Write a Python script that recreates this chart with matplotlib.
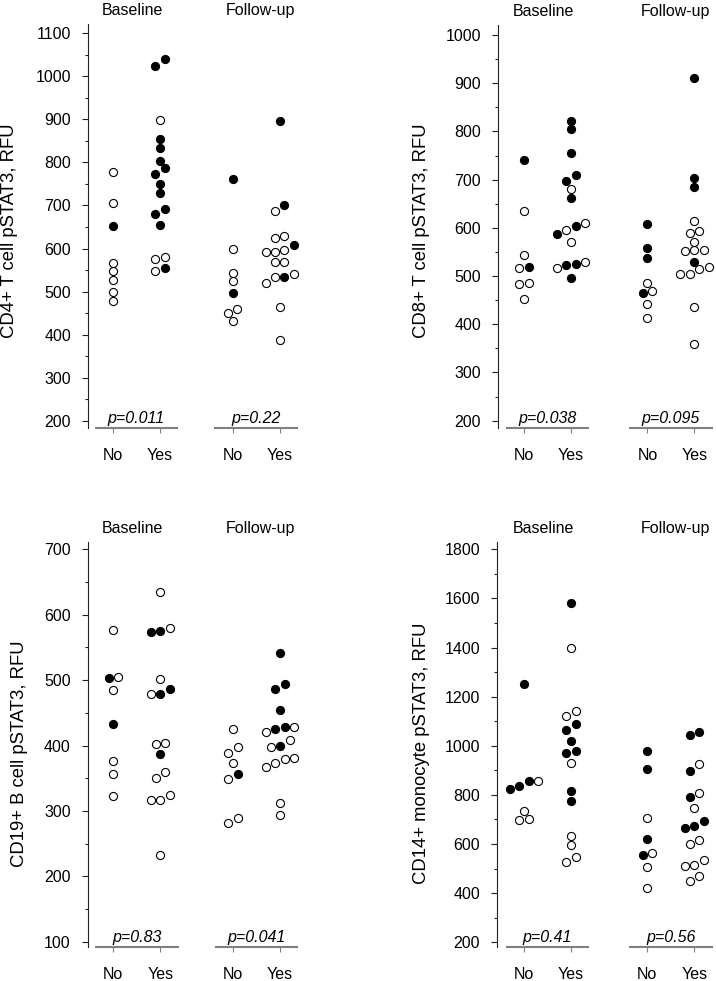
import numpy as np
import matplotlib
matplotlib.use("Agg")
from matplotlib import pyplot as plt
from matplotlib.ticker import MultipleLocator
from matplotlib.transforms import blended_transform_factory

plt.rcParams['font.family'] = ['Liberation Sans', 'DejaVu Sans']

# ---------------------------------------------------------------- data
groups = ["No", "Yes"]
timepoints = ["Baseline", "Follow-up"]

# CD4+ T cells (open / filled circles)
cd4_base_no_open = [479, 499, 526, 548, 567, 706, 777]
cd4_base_no_filled = [652]
cd4_base_yes_open = [548, 575, 580, 898]
cd4_base_yes_filled = [554, 654, 680, 691, 729, 750, 773, 787, 803, 833, 854, 1024, 1040]
cd4_fu_no_open = [431, 450, 459, 524, 543, 600]
cd4_fu_no_filled = [497, 762]
cd4_fu_yes_open = [388, 464, 521, 534, 541, 568, 568, 593, 593, 597, 624, 628, 688]
cd4_fu_yes_filled = [534, 608, 702, 896]
cd4_p = ["p=0.011", "p=0.22"]

# CD8+ T cells
cd8_base_no_open = [452, 484, 486, 516, 543, 634]
cd8_base_no_filled = [519, 741]
cd8_base_yes_open = [516, 530, 570, 595, 610, 681]
cd8_base_yes_filled = [495, 522, 524, 587, 603, 661, 698, 710, 755, 804, 822]
cd8_fu_no_open = [414, 442, 469, 486]
cd8_fu_no_filled = [465, 537, 559, 607]
cd8_fu_yes_open = [360, 436, 504, 504, 514, 518, 552, 553, 555, 571, 590, 593, 615]
cd8_fu_yes_filled = [530, 684, 703, 911]
cd8_p = ["p=0.038", "p=0.095"]

# CD19+ B cells
cd19_base_no_open = [323, 356, 377, 485, 504, 577]
cd19_base_no_filled = [433, 503]
cd19_base_yes_open = [232, 316, 316, 324, 350, 360, 402, 404, 478, 501, 580, 634]
cd19_base_yes_filled = [387, 479, 487, 574, 575]
cd19_fu_no_open = [282, 289, 349, 373, 388, 398, 425]
cd19_fu_no_filled = [356]
cd19_fu_yes_open = [294, 312, 367, 373, 380, 381, 397, 409, 421, 429]
cd19_fu_yes_filled = [399, 426, 428, 454, 487, 494, 542]
cd19_p = ["p=0.83", "p=0.041"]

# CD14+ monocytes
cd14_base_no_open = [699, 700, 734, 858]
cd14_base_no_filled = [823, 838, 857, 1252]
cd14_base_yes_open = [526, 549, 598, 633, 929, 1121, 1142, 1397]
cd14_base_yes_filled = [774, 815, 969, 980, 1018, 1064, 1087, 1580]
cd14_fu_no_open = [423, 508, 562, 705]
cd14_fu_no_filled = [557, 620, 904, 979]
cd14_fu_yes_open = [451, 471, 509, 515, 535, 599, 615, 746, 808, 927]
cd14_fu_yes_filled = [666, 672, 693, 791, 899, 1045, 1058]
cd14_p = ["p=0.41", "p=0.56"]

panels = [
    dict(label="CD4+ T cell pSTAT3, RFU", p=cd4_p,
         sets=[(cd4_base_no_open, cd4_base_no_filled), (cd4_base_yes_open, cd4_base_yes_filled),
               (cd4_fu_no_open, cd4_fu_no_filled), (cd4_fu_yes_open, cd4_fu_yes_filled)],
         left=88, top=24, bottom=428.3, x_lo=-0.53, gap=2.55,
         ylim=(182.3, 1121.6), major=100, label_xy=(10, 230.7)),
    dict(label="CD8+ T cell pSTAT3, RFU", p=cd8_p,
         sets=[(cd8_base_no_open, cd8_base_no_filled), (cd8_base_yes_open, cd8_base_yes_filled),
               (cd8_fu_no_open, cd8_fu_no_filled), (cd8_fu_yes_open, cd8_fu_yes_filled)],
         left=498, top=25, bottom=428.3, x_lo=-0.55, gap=2.63,
         ylim=(184.2, 1020.7), major=100, label_xy=(421.3, 230.8)),
    dict(label="CD19+ B cell pSTAT3, RFU", p=cd19_p,
         sets=[(cd19_base_no_open, cd19_base_no_filled), (cd19_base_yes_open, cd19_base_yes_filled),
               (cd19_fu_no_open, cd19_fu_no_filled), (cd19_fu_yes_open, cd19_fu_yes_filled)],
         left=87.7, top=542.3, bottom=946.7, x_lo=-0.545, gap=2.55,
         ylim=(92.4, 710.7), major=100, label_xy=(20, 754)),
    dict(label="CD14+ monocyte pSTAT3, RFU", p=cd14_p,
         sets=[(cd14_base_no_open, cd14_base_no_filled), (cd14_base_yes_open, cd14_base_yes_filled),
               (cd14_fu_no_open, cd14_fu_no_filled), (cd14_fu_yes_open, cd14_fu_yes_filled)],
         left=497.3, top=542.3, bottom=946.7, x_lo=-0.57, gap=2.62,
         ylim=(182.1, 1828.5), major=200, label_xy=(421.3, 753.3)),
]

# ---------------------------------------------------------------- style
FIG_W, FIG_H = 716, 981
PX_PER_X = 47.0          # pixels per category step
STEP = 0.2               # horizontal spacing of dots in a row (x units)
CHAIN_PX = 7.6           # max gap to previous dot for sharing a row
SPAN_PX = 12.0           # max span of a row
FS = 11.5
DOT = 34
LINE_GRAY = '#7f7f7f'


def row_offsets(values, chain, span):
    """Group sorted values into horizontal rows and center each row."""
    values = np.asarray(values, dtype=float)
    order = np.argsort(values, kind='stable')
    rows = []
    for i in order:
        if rows and values[i] - values[rows[-1][-1]] < chain and values[i] - values[rows[-1][0]] < span:
            rows[-1].append(i)
        else:
            rows.append([i])
    offsets = np.zeros(len(values))
    for row in rows:
        n = len(row)
        for k, i in enumerate(row):
            offsets[i] = (k - (n - 1) / 2) * STEP
    return offsets


fig = plt.figure(figsize=(FIG_W / 100, FIG_H / 100), dpi=100)

for pan in panels:
    gap = pan['gap']
    x_hi = gap + 1.40
    width = (x_hi - pan['x_lo']) * PX_PER_X
    height = pan['bottom'] - pan['top']
    ax = fig.add_axes([pan['left'] / FIG_W, 1 - pan['bottom'] / FIG_H,
                       width / FIG_W, height / FIG_H])
    ax.set_xlim(pan['x_lo'], x_hi)
    ax.set_ylim(*pan['ylim'])
    units_per_px = (pan['ylim'][1] - pan['ylim'][0]) / height

    positions = [0, 1, gap, gap + 1]
    for pos, (open_vals, filled_vals) in zip(positions, pan['sets']):
        vals = np.array(list(open_vals) + list(filled_vals), dtype=float)
        filled = np.array([False] * len(open_vals) + [True] * len(filled_vals))
        offs = row_offsets(vals, CHAIN_PX * units_per_px, SPAN_PX * units_per_px)
        xs = pos + offs
        ax.scatter(xs[~filled], vals[~filled], s=DOT, facecolor='white',
                   edgecolor='black', linewidths=0.8, zorder=3, clip_on=False)
        ax.scatter(xs[filled], vals[filled], s=DOT, facecolor='black',
                   edgecolor='black', linewidths=0.8, zorder=3, clip_on=False)

    # axes styling
    for side in ('top', 'right', 'bottom'):
        ax.spines[side].set_visible(False)
    ax.spines['left'].set_color('#222222')
    ax.spines['left'].set_linewidth(0.8)
    ax.yaxis.set_major_locator(MultipleLocator(pan['major']))
    ax.yaxis.set_minor_locator(MultipleLocator(pan['major'] / 2))
    ax.tick_params(axis='y', which='major', length=4.3, width=0.8, color='#222222',
                   labelsize=FS, pad=8)
    ax.tick_params(axis='y', which='minor', length=2.4, width=0.8, color='#222222')

    ax.set_xticks(positions)
    ax.set_xticklabels(groups * 2)
    ax.tick_params(axis='x', length=3.4, width=0.8, color=LINE_GRAY,
                   labelsize=FS, pad=11)

    trans = blended_transform_factory(ax.transData, ax.transAxes)
    centers = [0.5, gap + 0.5]
    for c, ptxt in zip(centers, pan['p']):
        ax.plot([c - 0.89, c + 0.89], [0, 0], transform=trans, color=LINE_GRAY,
                lw=1.5, solid_capstyle='butt', clip_on=False, zorder=2)
        ax.annotate(ptxt, xy=(c, 0), xycoords=trans, xytext=(0, 3.6),
                    textcoords='offset points', ha='center', va='baseline',
                    fontsize=FS, style='italic')
    for c, title, dx in zip(centers, timepoints, (-0.09, 0.09)):
        ax.annotate(title, xy=(c + dx, 1), xycoords=trans, xytext=(0, 6.5),
                    textcoords='offset points', ha='center', va='baseline',
                    fontsize=FS)

    lx, ly = pan['label_xy']
    fig.text(lx / FIG_W, 1 - ly / FIG_H, pan['label'], rotation=90,
             ha='center', va='center', fontsize=13.3)

fig.savefig('out.png', dpi=100)
